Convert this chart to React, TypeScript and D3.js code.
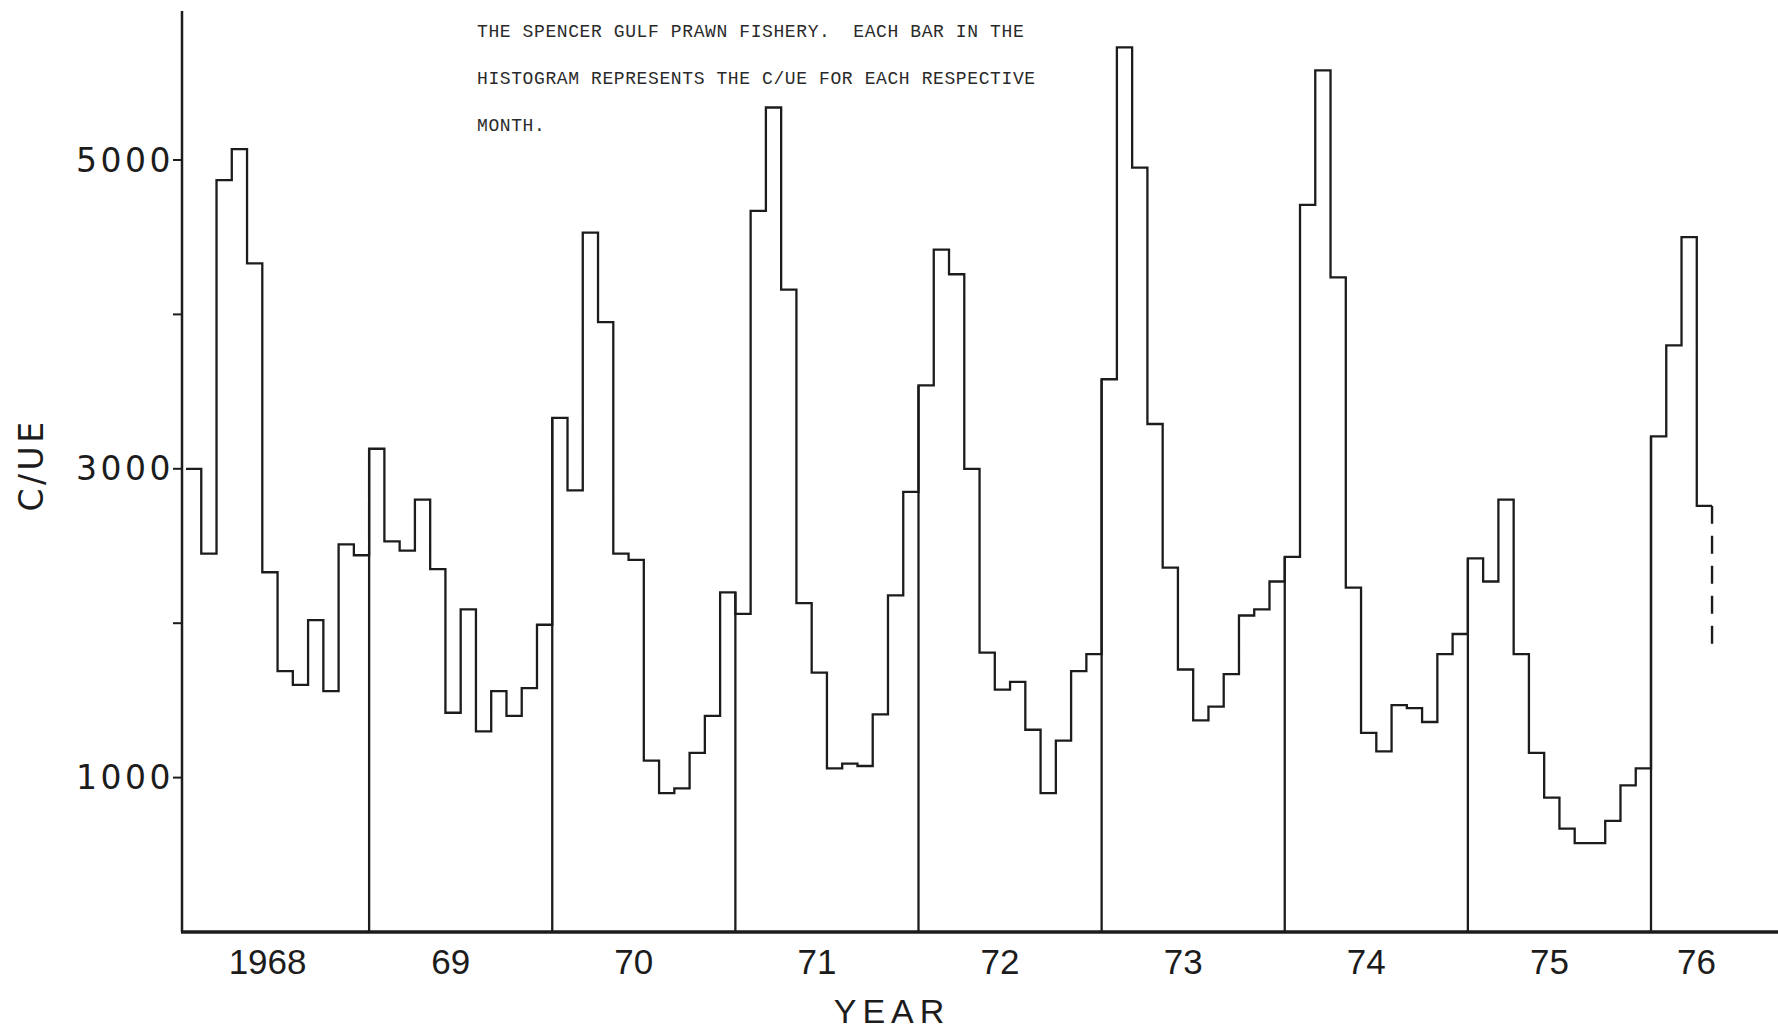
import React from "react";
import * as d3 from "d3";

// monthly C/UE
const years = ["1968", "69", "70", "71", "72", "73", "74", "75", "76"];
const cue1968 = [3000, 2450, 4870, 5070, 4330, 2330, 1690, 1600, 2020, 1560, 2510, 2440];
const cue1969 = [3130, 2530, 2470, 2800, 2350, 1420, 2090, 1300, 1560, 1400, 1580, 1990];
const cue1970 = [3330, 2860, 4530, 3950, 2450, 2410, 1110, 900, 930, 1160, 1400, 2200];
const cue1971 = [2060, 4670, 5340, 4160, 2130, 1680, 1060, 1090, 1075, 1410, 2180, 2850];
const cue1972 = [3540, 4420, 4260, 3000, 1810, 1570, 1620, 1310, 900, 1240, 1690, 1800];
const cue1973 = [3580, 5730, 4950, 3290, 2360, 1700, 1370, 1460, 1670, 2050, 2090, 2270];
const cue1974 = [2430, 4710, 5580, 4240, 2230, 1290, 1170, 1470, 1450, 1360, 1800, 1930];
const cue1975 = [2420, 2270, 2800, 1800, 1160, 870, 670, 575, 575, 720, 950, 1060];
const cue1976 = [3210, 3800, 4500, 2760];
const dashedEnd = 1800; // incomplete last month, drawn dashed

const yTicks = [1000, 2000, 3000, 4000, 5000];
const yLabels = [1000, 3000, 5000];
const titleLines = [
  "THE SPENCER GULF PRAWN FISHERY.  EACH BAR IN THE",
  "HISTOGRAM REPRESENTS THE C/UE FOR EACH RESPECTIVE",
  "MONTH.",
];

const cueByYear = [cue1968, cue1969, cue1970, cue1971, cue1972, cue1973, cue1974, cue1975, cue1976];

export default function App() {
  const W = 1778;
  const H = 1036;
  const ink = "#1c1c1c";

  const x = d3.scaleLinear().domain([0, 96]).range([186, 1651]);
  const y = d3.scaleLinear().domain([0, 5000]).range([932, 160]);
  const axisX = 182;

  const values = cueByYear.flat();
  const pts: [number, number][] = values.map((v, i) => [i, v]);
  pts.push([values.length, values[values.length - 1]]);

  const step = d3
    .line<[number, number]>()
    .x((d) => x(d[0]))
    .y((d) => y(d[1]))
    .curve(d3.curveStepAfter);

  // where each year starts, in months
  const starts: number[] = [];
  let acc = 0;
  cueByYear.forEach((arr) => {
    starts.push(acc);
    acc += arr.length;
  });

  const lastM = values.length;

  return (
    <div style={{ position: "absolute", left: 0, top: 0 }}>
      <svg width={W} height={H} style={{ display: "block", background: "#fff" }}>
        {/* title */}
        {titleLines.map((t, i) => (
          <text
            key={i}
            x={477}
            y={37 + i * 47}
            fontFamily="Liberation Mono, DejaVu Sans Mono, monospace"
            fontSize={18}
            letterSpacing={0.6}
            fill="#2a2a2a"
            xmlSpace="preserve"
            style={{ whiteSpace: "pre" }}
          >
            {t}
          </text>
        ))}

        {/* axes */}
        <line x1={axisX} y1={11} x2={axisX} y2={y(0)} stroke={ink} strokeWidth={2.5} />
        <line x1={axisX - 1} y1={y(0)} x2={W} y2={y(0)} stroke={ink} strokeWidth={3.5} />
        {yTicks.map((t) => (
          <line key={t} x1={axisX - 9} x2={axisX} y1={y(t)} y2={y(t)} stroke={ink} strokeWidth={2} />
        ))}
        {yLabels.map((t) => (
          <text
            key={t}
            x={axisX - 8}
            y={y(t)}
            textAnchor="end"
            dominantBaseline="central"
            fontFamily="DejaVu Sans, sans-serif"
            fontSize={33}
            letterSpacing={3.5}
            fill={ink}
          >
            {t}
          </text>
        ))}
        <text
          transform={`translate(43,465) rotate(-90)`}
          textAnchor="middle"
          fontFamily="DejaVu Sans, sans-serif"
          fontSize={33}
          letterSpacing={3.5}
          fill={ink}
        >
          C/UE
        </text>

        {/* histogram */}
        <path d={step(pts) || ""} fill="none" stroke={ink} strokeWidth={2.3} />
        {starts.slice(1).map((s, i) => (
          <line
            key={i}
            x1={x(s)}
            x2={x(s)}
            y1={y(0)}
            y2={y(Math.max(values[s - 1], values[s]))}
            stroke={ink}
            strokeWidth={2.3}
          />
        ))}
        <line
          x1={x(lastM)}
          x2={x(lastM)}
          y1={y(values[lastM - 1])}
          y2={y(dashedEnd)}
          stroke={ink}
          strokeWidth={2.4}
          strokeDasharray="18 12"
        />

        {/* year labels */}
        {years.map((yr, i) => {
          const n = cueByYear[i].length;
          const cx = (x(starts[i]) + x(starts[i] + n)) / 2 + (n < 12 ? 15 : -10);
          return (
            <text
              key={yr}
              x={cx}
              y={974}
              textAnchor="middle"
              fontFamily="Liberation Sans, Arial, sans-serif"
              fontSize={35}
              fill={ink}
            >
              {yr}
            </text>
          );
        })}
        <text
          x={892}
          y={1023}
          textAnchor="middle"
          fontFamily="Liberation Sans, Arial, sans-serif"
          fontSize={34}
          letterSpacing={6}
          fill={ink}
        >
          YEAR
        </text>
      </svg>
    </div>
  );
}
